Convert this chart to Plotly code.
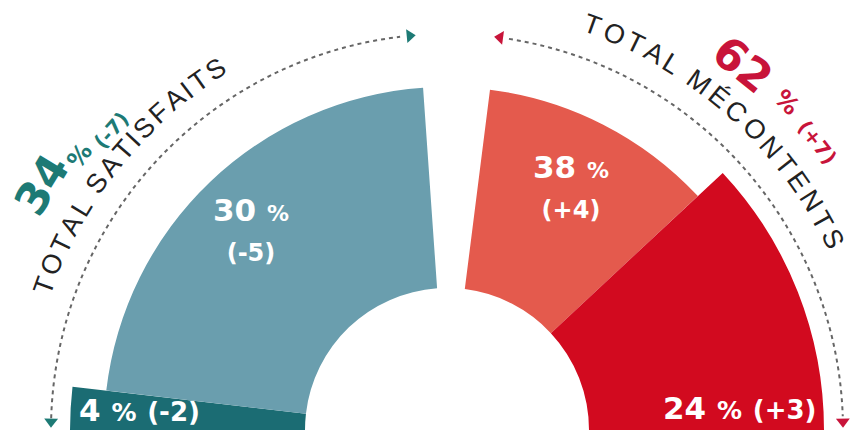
import math
import plotly.graph_objects as go

# ---------------- data ----------------
categories = ["Très satisfaits", "Plutôt satisfaits", "Plutôt mécontents", "Très mécontents"]
values = [4, 30, 38, 24]          # %
changes = [-2, -5, 4, 3]          # points vs previous wave
total_labels = ["TOTAL SATISFAITS", "TOTAL MÉCONTENTS"]

# ---------------- geometry / style (as drawn in the infographic) ----------------
W, H = 852, 434
CX, CY = 447, 430            # centre of the half ring, px from top-left
R_AX = 400                   # radial axis range == polar radius in px
INNER = 142
arc_start = [180.0, 173.4, 82.8, 43.0]   # degrees (ccw from east)
arc_end = [173.4, 94.0, 43.0, 0.0]
outer = [377, 343, 343, 377]
colors = ["#1b6c73", "#6a9eae", "#e45a4d", "#d20a1f"]
TEAL = "#1d7a75"
RED = "#c8143a"
FONT_NUM = "DejaVu Sans"
FONT_TXT = "Liberation Sans"


def p2paper(r, th):
    a = math.radians(th)
    x = CX + r * math.cos(a)
    y = CY - r * math.sin(a)
    return x / W, 1 - y / H


fig = go.Figure()

# ring segments
for i in range(len(values)):
    fig.add_trace(go.Barpolar(
        r=[outer[i] - INNER], base=[INNER],
        theta=[(arc_start[i] + arc_end[i]) / 2],
        width=[arc_start[i] - arc_end[i]],
        marker=dict(color=colors[i], line=dict(width=0)),
        name=categories[i], hoverinfo="name", showlegend=False,
    ))

# dashed arcs with arrow heads
R_ARC = 396
def arc(t0, t1, n=120):
    return [t0 + (t1 - t0) * k / (n - 1) for k in range(n)]

for (t0, t1, col, tips) in [
    (178.3, 96.8, TEAL, [(95.4, 180 - 95.4), (178.8, -178.8)]),
    (81.0, 2.0, RED, [(82.3, -82.3), (1.2, 180 - 1.2)]),
]:
    th = arc(t0, t1)
    fig.add_trace(go.Scatterpolar(
        r=[R_ARC] * len(th), theta=th, mode="lines",
        line=dict(color="#666666", width=2, dash="4px,4px"),
        hoverinfo="skip", showlegend=False,
    ))
    fig.add_trace(go.Scatterpolar(
        r=[R_ARC] * len(tips), theta=[t for t, _ in tips], mode="markers",
        marker=dict(symbol="triangle-up", size=12, color=col,
                    angle=[a for _, a in tips]),
        hoverinfo="skip", showlegend=False,
    ))

ann = []

# labels inside segments
def seg_label(i):
    return (f"{values[i]} <span style='font-size:22px'>%</span><br>"
            f"<span style='font-size:24px'>({changes[i]:+d})</span>")

for i, (px, py) in [(1, (251, 229)), (2, (571, 186))]:
    ann.append(dict(x=px / W, y=1 - py / H, xref="paper", yref="paper",
                    xanchor="center", yanchor="middle",
                    text=seg_label(i), showarrow=False, align="center",
                    font=dict(family=FONT_NUM, size=31, color="white", weight="bold")))

def flat_label(i):
    return (f"{values[i]} <span style='font-size:25px'>%</span> "
            f"<span style='font-size:26px'>({changes[i]:+d})</span>")

ann.append(dict(x=77 / W, y=1 - 410 / H, xref="paper", yref="paper",
                xanchor="left", yanchor="middle",
                text=flat_label(0), showarrow=False,
                font=dict(family=FONT_NUM, size=31, color="white", weight="bold")))
ann.append(dict(x=818 / W, y=1 - 408 / H, xref="paper", yref="paper",
                xanchor="right", yanchor="middle",
                text=flat_label(3), showarrow=False,
                font=dict(family=FONT_NUM, size=31, color="white", weight="bold")))

# curved "TOTAL ..." texts, character by character along an arc
ADV = {"T": .611, "O": .778, "A": .667, "L": .556, " ": .278, "S": .667, "I": .278,
       "F": .611, "M": .833, "É": .667, "C": .722, "N": .722, "E": .667}

def arc_text(text, r, th0, th1, size, color):
    adv = [ADV.get(c, .6) for c in text]
    centers, acc = [], 0.0
    for a in adv:
        centers.append(acc + a / 2)
        acc += a
    c0, c1 = centers[0], centers[-1]
    for ch, c in zip(text, centers):
        if ch == " ":
            continue
        th = th0 + (th1 - th0) * (c - c0) / (c1 - c0)
        x, y = p2paper(r, th)
        ann.append(dict(x=x, y=y, xref="paper", yref="paper", text=ch, showarrow=False,
                        textangle=90 - th, xanchor="center", yanchor="middle",
                        font=dict(family=FONT_TXT, size=size, color=color)))

arc_text(total_labels[0], 428, 160.3, 122.6, 27, "#222222")
arc_text(total_labels[1], 430, 70.2, 26.3, 27, "#222222")

# totals
tot_sat = values[0] + values[1]
tot_sat_ch = changes[0] + changes[1]
tot_mec = values[2] + values[3]
tot_mec_ch = changes[2] + changes[3]

def piece(text, r, th, size, color):
    x, y = p2paper(r, th)
    ann.append(dict(x=x, y=y, xref="paper", yref="paper", text=text, showarrow=False,
                    textangle=90 - th, xanchor="center", yanchor="middle",
                    font=dict(family=FONT_NUM, size=size, color=color, weight="bold")))

piece(f"{tot_sat}", 474, 148.8, 44, TEAL)
piece("%", 458, 143.3, 24, TEAL)
piece(f"({tot_sat_ch:+d})", 450, 138.2, 20, TEAL)
piece(f"{tot_mec}", 470, 51.0, 44, RED)
piece("%", 472, 44.0, 24, RED)
piece(f"({tot_mec_ch:+d})", 469, 37.9, 20, RED)

fig.update_layout(
    width=W, height=H,
    margin=dict(l=0, r=0, t=0, b=0),
    paper_bgcolor="white",
    plot_bgcolor="white",
    polar=dict(
        domain=dict(x=[(CX - R_AX) / W, (CX + R_AX) / W],
                    y=[(H - CY) / H, (H - CY + R_AX) / H]),
        sector=[0, 180],
        bgcolor="white",
        bargap=0,
        radialaxis=dict(range=[0, R_AX], visible=False, showgrid=False),
        angularaxis=dict(visible=False, showgrid=False, direction="counterclockwise", rotation=0),
    ),
    annotations=ann,
    showlegend=False,
)

fig.write_html("out.html", config={"displayModeBar": False},
               post_script="document.body.style.margin='0px';document.body.style.overflow='hidden';")
